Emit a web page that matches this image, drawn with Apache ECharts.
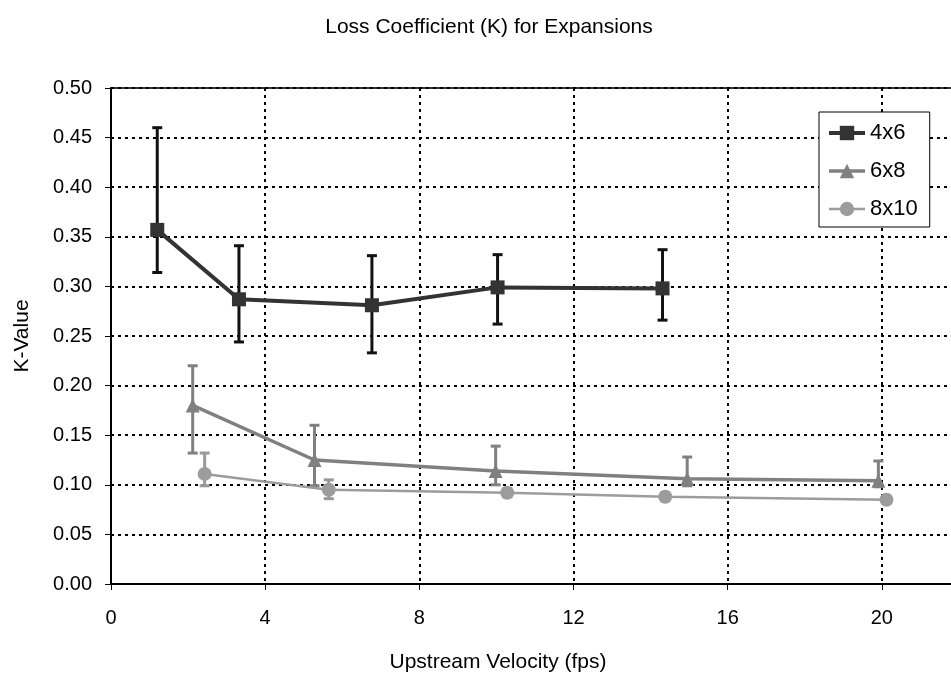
<!DOCTYPE html>
<html>
<head>
<meta charset="utf-8">
<script src="https://cdn.jsdelivr.net/npm/echarts@6/dist/echarts.min.js"></script>
<style>
  html, body { margin: 0; padding: 0; background: #fff; }
  #chart { width: 951px; height: 674px; }
</style>
</head>
<body>
<div id="chart"></div>
<script>
// Expansion fittings: upstream velocity (fps) vs. loss coefficient K, with error ranges
var seriesNames = ['4x6', '6x8', '8x10'];

var velocity4x6 = [1.2, 3.32, 6.77, 10.03, 14.31];
var k4x6 = [0.357, 0.287, 0.281, 0.299, 0.298];
var k4x6Low = [0.314, 0.244, 0.233, 0.262, 0.266];
var k4x6High = [0.460, 0.341, 0.331, 0.332, 0.337];

var velocity6x8 = [2.12, 5.28, 9.98, 14.95, 19.91];
var k6x8 = [0.180, 0.125, 0.114, 0.106, 0.104];
var k6x8Low = [0.132, 0.099, 0.100, 0.099, 0.098];
var k6x8High = [0.220, 0.160, 0.139, 0.128, 0.124];

var velocity8x10 = [2.43, 5.65, 10.28, 14.38, 20.12];
var k8x10 = [0.111, 0.095, 0.092, 0.088, 0.085];
var k8x10Low = [0.099, 0.086, 0.088, 0.084, 0.082];
var k8x10High = [0.132, 0.105, 0.096, 0.092, 0.088];

var xTicks = [0, 4, 8, 12, 16, 20, 24];
var yTicks = [0, 0.05, 0.10, 0.15, 0.20, 0.25, 0.30, 0.35, 0.40, 0.45, 0.50];

var FONT = '"Liberation Sans", Arial, sans-serif';
var FS = 21;
var TICK_FS = 20;

var seriesColors = ['#333333', '#808080', '#9c9c9c'];
var seriesWidths = [4, 3.5, 2.5];

function pairs(xs, ys) {
  return xs.map(function (x, i) { return [x, ys[i]]; });
}
function errRows(xs, lo, hi) {
  return xs.map(function (x, i) { return [x, lo[i], hi[i]]; });
}

function errorSeries(name, rows, color) {
  return {
    type: 'custom',
    name: name + ' range',
    z: 1,
    silent: true,
    data: rows,
    encode: { x: 0, y: [1, 2] },
    renderItem: function (params, api) {
      var x = api.value(0);
      var lo = api.coord([x, api.value(1)]);
      var hi = api.coord([x, api.value(2)]);
      var half = 5;
      var style = { stroke: color, lineWidth: 3 };
      return {
        type: 'group',
        children: [
          { type: 'line', shape: { x1: lo[0], y1: lo[1], x2: hi[0], y2: hi[1] }, style: style },
          { type: 'line', shape: { x1: hi[0] - half, y1: hi[1], x2: hi[0] + half, y2: hi[1] }, style: style },
          { type: 'line', shape: { x1: lo[0] - half, y1: lo[1], x2: lo[0] + half, y2: lo[1] }, style: style }
        ]
      };
    }
  };
}

function lineSeries(idx, data, symbol, size) {
  return {
    type: 'line',
    name: seriesNames[idx],
    z: 3,
    data: data,
    symbol: symbol,
    symbolSize: size,
    showAllSymbol: true,
    lineStyle: { color: seriesColors[idx], width: seriesWidths[idx] },
    itemStyle: { color: seriesColors[idx], borderWidth: 0 },
    emphasis: { disabled: true },
    animation: false
  };
}

var gridLine = { show: true, lineStyle: { color: '#000', width: 2, type: [3, 4] } };

var chart = echarts.init(document.getElementById('chart'), null, { renderer: 'canvas' });
chart.setOption({
  animation: false,
  backgroundColor: '#fff',
  textStyle: { fontFamily: FONT },
  grid: {
    left: 111, top: 88, width: 925, height: 496,
    outerBoundsMode: 'none',
    containLabel: false,
    show: true, borderColor: '#333', borderWidth: 2, backgroundColor: 'transparent'
  },
  legend: {
    data: seriesNames.map(function (n, i) {
      return { name: n, lineStyle: { width: seriesWidths[i], color: seriesColors[i] } };
    }),
    orient: 'vertical',
    left: 819, top: 112,
    backgroundColor: '#fff',
    borderColor: '#000', borderWidth: 1,
    padding: [10, 12, 7, 8],
    itemWidth: 36, itemHeight: 18, itemGap: 16,
    textStyle: { fontSize: 22, color: '#000', fontFamily: FONT },
    selectedMode: false
  },
  xAxis: {
    type: 'value',
    min: xTicks[0], max: xTicks[xTicks.length - 1], interval: 4,
    axisLine: { show: true, onZero: false, lineStyle: { color: '#000', width: 2 } },
    axisTick: { show: true, length: 6, lineStyle: { color: '#000', width: 1 } },
    axisLabel: { color: '#000', fontSize: TICK_FS, margin: 24, fontFamily: FONT },
    splitLine: gridLine
  },
  yAxis: {
    type: 'value',
    min: yTicks[0], max: yTicks[yTicks.length - 1], interval: 0.05,
    axisLine: { show: true, lineStyle: { color: '#000', width: 2 } },
    axisTick: { show: true, length: 6, lineStyle: { color: '#000', width: 1 } },
    axisLabel: {
      color: '#000', fontSize: TICK_FS, margin: 19, fontFamily: FONT,
      formatter: function (v) { return v.toFixed(2); }
    },
    splitLine: gridLine
  },
  graphic: [
    { type: 'text', x: 489, y: 27, z: 10,
      style: { text: 'Loss Coefficient (K) for Expansions', font: FS + 'px ' + FONT, fill: '#000', align: 'center', verticalAlign: 'middle' } },
    { type: 'text', x: 498, y: 662, z: 10,
      style: { text: 'Upstream Velocity (fps)', font: FS + 'px ' + FONT, fill: '#000', align: 'center', verticalAlign: 'middle' } },
    { type: 'text', x: 22, y: 336, rotation: Math.PI / 2, z: 10,
      style: { text: 'K-Value', font: FS + 'px ' + FONT, fill: '#000', align: 'center', verticalAlign: 'middle' } }
  ],
  series: [
    errorSeries('4x6', errRows(velocity4x6, k4x6Low, k4x6High), '#111'),
    errorSeries('6x8', errRows(velocity6x8, k6x8Low, k6x8High), '#808080'),
    errorSeries('8x10', errRows(velocity8x10, k8x10Low, k8x10High), '#999999'),
    lineSeries(0, pairs(velocity4x6, k4x6), 'rect', 14),
    lineSeries(1, pairs(velocity6x8, k6x8), 'triangle', 14),
    lineSeries(2, pairs(velocity8x10, k8x10), 'circle', 14)
  ]
});
</script>
</body>
</html>
